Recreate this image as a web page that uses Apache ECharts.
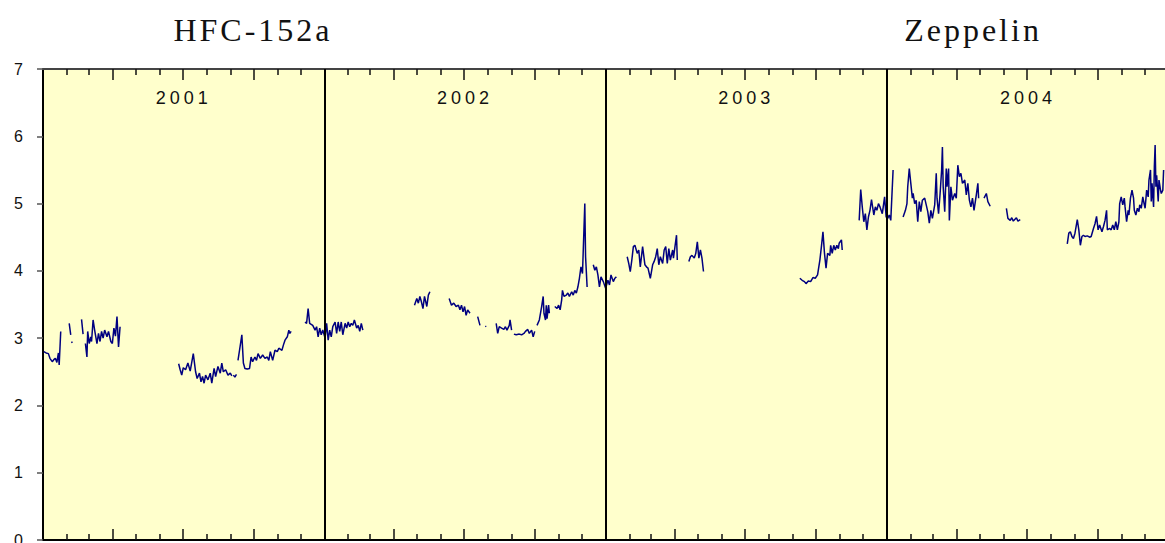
<!DOCTYPE html>
<html>
<head>
<meta charset="utf-8">
<script src="https://cdn.jsdelivr.net/npm/echarts@6/dist/echarts.min.js"></script>
<style>
html, body { margin: 0; padding: 0; background: #fff; }
#main { width: 1165px; height: 543px; }
#main text[style*="32px"] { letter-spacing: 3px; }
#main text[style*="18px"] { letter-spacing: 4px; }
</style>
</head>
<body>
<div id="main"></div>
<script>
var titles = ['HFC-152a', 'Zeppelin'];
var years = ['2001', '2002', '2003', '2004'];
var yearLength = [365, 365, 365, 366];
var monthLength = [31, 28, 31, 30, 31, 30, 31, 31, 30, 31, 30, 31];

// day number since 1 Jan 2001, null = gap in the record
var days = [
    1, 4, 7, 9, 12, 14, 16, 18, 20, 21, 23, null,
    34, 36, null, 37, 38, null, 50, 52, null,
    55, 57, 58, 60, 62, 63, 65, 67, 70, 72, 74, 76, 78, 80, 83, 85, 88, 90, 92, 94, 96, 98, 100, null,
    176, 178, 180, 182, 185, 188, 191, 195, 198, 200, 203, 205, 207, 209, 211, 214, 217, 219, 222, 224, 227, 230, 232, 234, 237, 240, 243, 245, null,
    247, 249, 251, null,
    253, 255, 258, 260, 262, 265, 268, 270, 272, 275, 277, 279, 282, 285, 288, 291, 293, 295, 298, 301, 304, 306, 310, 312, 314, 317, 319, 320, 322, null,
    340, 342, 344, 346, 350, 353, 355, 357, 359, 361, 363, 366, 368, 370, 372, 374, 376, 379, 381, 383, 385, 387, 389, 392, 394, 396, 398, 400, 402, 404, 407, 409, 411, 413, 415, null,
    482, 485, 487, 489, 491, 493, 495, 498, 500, 502, null,
    527, 530, 533, 536, 539, 541, 543, 545, 547, 549, 551, 554, null,
    564, 567, null, 574, 575, null,
    588, 590, 592, 595, 598, 600, 602, 605, 606, 608, null,
    611, 614, 618, 621, 624, 626, 629, 631, 634, 636, 638, null,
    641, 644, 647, 649, 650, 652, 653, 654, 656, 657, null,
    664, 667, 669, 671, 673, 674, 676, 679, 681, 683, 686, 688, 690, 692, 694, 696, 698, 700, 703, 704, 706, null,
    714, 716, 718, 720, 722, 724, 727, 730, 733, 735, 737, 740, 742, 744, null,
    758, 760, 762, 764, 766, 768, 771, 773, 775, 777, 778, 781, 783, 785, 788, 791, 793, 795, 797, 799, 801, 804, 806, 808, 810, 812, 814, 817, 818, 820, 822, 823, null,
    838, 840, 842, 845, 847, 849, 851, 853, 855, 857, null,
    982, 985, 988, 990, 993, 996, 999, 1002, 1005, 1008, 1010, 1012, 1014, 1016, 1018, 1021, 1022, 1024, 1026, 1028, 1030, 1032, 1033, 1036, 1037, null,
    1059, 1061, 1063, 1065, 1067, 1069, 1071, 1073, 1075, 1078, 1080, 1082, 1084, 1086, 1089, 1092, 1094, 1096, 1098, 1100, 1103, null,
    1116, 1119, 1121, 1122, 1124, 1126, 1128, 1129, 1131, 1133, 1135, 1137, 1139, 1141, 1144, 1146, 1148, 1150, 1152, 1154,
    1157, 1159, 1160, 1162, 1164, 1166, 1167, 1168, 1170, 1172, 1173, 1175, 1176, 1178, 1180, 1183, 1185, 1187, 1189, 1191,
    1193, 1196, 1198, 1200, 1202, 1204, 1206, 1208, 1211, 1213, 1214, null,
    1221, 1224, 1226, 1229, null,
    1250, 1252, 1255, 1257, 1259, 1263, 1265, 1268, null,
    1329, 1331, 1333, 1335, 1337, 1339, 1342, 1344, 1346, 1348, 1350, 1352, 1355, 1358, 1360, 1363, 1365, 1367, 1369, 1371,
    1374, 1376, 1378, 1380, 1381, 1384, 1386, 1388, 1390, 1392, 1394, 1396, 1397, 1399, 1401, 1403, 1404, 1406, 1408, 1409,
    1411, 1413, 1415, 1416, 1418, 1420, 1422, 1423, 1425, 1427, 1429, 1430, 1432, 1434, 1435, 1437, 1438, 1439, 1441, 1442,
    1443, 1444, 1445, 1447, 1448, 1450, 1451, 1453, 1454
];

// HFC-152a mixing ratio (ppt)
var ppt = [
    2.80, 2.78, 2.77, 2.70, 2.65, 2.68, 2.70, 2.64, 2.78, 2.60, 3.10, null,
    3.22, 3.05, null, 2.95, 2.93, null, 3.28, 3.06, null,
    2.92, 2.72, 3.10, 2.92, 3.02, 2.95, 3.27, 3.12, 2.92, 3.07, 2.95, 3.10, 3.00, 3.12, 3.02, 3.10, 2.95, 2.92, 3.15, 3.03, 3.32, 2.87, 3.17, null,
    2.62, 2.53, 2.45, 2.56, 2.53, 2.63, 2.51, 2.77, 2.50, 2.40, 2.48, 2.35, 2.43, 2.33, 2.45, 2.38, 2.48, 2.33, 2.55, 2.43, 2.58, 2.48, 2.63, 2.50, 2.53, 2.45, 2.48, 2.44, null,
    2.45, 2.42, 2.46, null,
    2.67, 2.82, 3.05, 2.63, 2.55, 2.54, 2.55, 2.72, 2.65, 2.72, 2.67, 2.77, 2.70, 2.75, 2.70, 2.72, 2.67, 2.80, 2.67, 2.82, 2.80, 2.85, 2.82, 2.90, 2.97, 3.02, 3.12, 3.07, 3.10, null,
    3.24, 3.22, 3.44, 3.22, 3.19, 3.12, 3.17, 3.02, 3.15, 3.05, 3.12, 3.00, 3.22, 2.97, 3.12, 3.02, 3.17, 3.24, 3.07, 3.24, 3.10, 3.24, 3.05, 3.22, 3.15, 3.24, 3.17, 3.22, 3.19, 3.27, 3.15, 3.19, 3.10, 3.22, 3.12, null,
    3.49, 3.59, 3.52, 3.62, 3.54, 3.44, 3.62, 3.47, 3.64, 3.69, null,
    3.59, 3.49, 3.52, 3.47, 3.49, 3.42, 3.49, 3.39, 3.47, 3.34, 3.42, 3.37, null,
    3.32, 3.19, null, 3.18, 3.17, null,
    3.22, 3.07, 3.17, 3.15, 3.13, 3.17, 3.12, 3.19, 3.27, 3.12, null,
    3.06, 3.05, 3.06, 3.05, 3.07, 3.10, 3.13, 3.07, 3.12, 3.02, 3.10, null,
    3.19, 3.27, 3.47, 3.62, 3.37, 3.27, 3.49, 3.29, 3.49, 3.37, null,
    3.47, 3.44, 3.49, 3.42, 3.57, 3.71, 3.62, 3.64, 3.67, 3.62, 3.69, 3.64, 3.71, 3.67, 3.76, 3.89, 4.06, 3.96, 5.00, 4.21, 3.76, null,
    4.09, 4.01, 4.06, 3.94, 3.76, 3.91, 3.84, 3.74, 3.86, 3.79, 3.94, 3.84, 3.89, 3.91, null,
    4.21, 4.11, 3.99, 4.16, 4.36, 4.38, 4.26, 4.31, 4.06, 4.26, 4.36, 4.09, 4.06, 4.04, 3.89, 4.09, 4.14, 4.21, 4.33, 4.09, 4.21, 4.11, 4.31, 4.36, 4.11, 4.33, 4.16, 4.31, 4.19, 4.36, 4.53, 4.16, null,
    4.14, 4.21, 4.23, 4.19, 4.26, 4.43, 4.19, 4.31, 4.19, 3.99, null,
    3.89, 3.86, 3.84, 3.81, 3.85, 3.84, 3.90, 3.89, 3.94, 4.16, 4.36, 4.58, 4.26, 4.04, 4.26, 4.23, 4.38, 4.26, 4.38, 4.31, 4.38, 4.33, 4.41, 4.46, 4.31, null,
    4.75, 5.21, 4.95, 4.73, 4.85, 4.61, 4.80, 4.90, 5.06, 4.83, 4.95, 4.90, 5.00, 4.95, 4.85, 5.10, 4.80, 4.78, 4.83, 4.75, 5.50, null,
    4.80, 4.90, 5.00, 5.25, 5.52, 5.30, 5.08, 5.15, 5.00, 5.05, 4.73, 5.03, 4.88, 5.05, 5.08, 4.98, 4.88, 4.71, 4.90, 4.78,
    4.98, 5.45, 5.08, 4.85, 5.15, 5.50, 5.84, 5.25, 4.88, 5.52, 5.25, 5.52, 4.75, 5.25, 5.05, 5.15, 5.08, 5.57, 5.40, 5.45,
    5.30, 5.35, 5.13, 5.30, 5.05, 4.95, 5.08, 4.90, 5.13, 5.30, 5.08, null,
    5.08, 5.15, 5.03, 4.96, null,
    4.93, 4.78, 4.75, 4.79, 4.74, 4.79, 4.74, 4.76, null,
    4.40, 4.56, 4.58, 4.51, 4.48, 4.56, 4.76, 4.61, 4.38, 4.51, 4.53, 4.51, 4.52, 4.50, 4.51, 4.63, 4.70, 4.81, 4.61, 4.68,
    4.58, 4.66, 4.75, 4.90, 4.61, 4.63, 4.61, 4.68, 4.61, 4.73, 4.61, 4.73, 5.00, 5.10, 4.98, 5.08, 4.95, 4.73, 4.90, 4.83,
    5.08, 5.20, 5.08, 4.90, 4.83, 4.93, 4.88, 4.98, 4.93, 5.10, 4.98, 4.93, 5.20, 5.10, 5.35, 5.50, 5.03, 5.30, 4.95, 5.55,
    5.87, 5.25, 5.42, 5.03, 5.35, 5.20, 5.15, 5.20, 5.50
];

// month, quarter and year boundaries on the day axis
var yearStart = [0];
var monthTicks = [];
var quarterTicks = [];
var yearMid = [];
for (var y = 0; y < years.length; y++) {
    var d = yearStart[y];
    yearMid.push(d + yearLength[y] / 2);
    for (var m = 0; m < 12; m++) {
        if (m > 0) {
            if (m % 3 === 0) quarterTicks.push(d);
            else monthTicks.push(d);
        }
        d += monthLength[m] + (m === 1 && yearLength[y] === 366 ? 1 : 0);
    }
    yearStart.push(d);
}
var dayMax = yearStart[yearStart.length - 1];

var seriesData = [];
for (var i = 0; i < days.length; i++) {
    seriesData.push(days[i] === null ? ['-', '-'] : [days[i], ppt[i]]);
}

function tickAxis(position, values, len, lineColor, showLine) {
    return {
        type: 'value',
        position: position,
        min: 0,
        max: dayMax,
        axisLine: { show: showLine, onZero: false, lineStyle: { color: lineColor, width: 2 } },
        axisTick: { show: true, inside: true, length: len, customValues: values, lineStyle: { color: '#111', width: 1.5 } },
        axisLabel: { show: false },
        splitLine: { show: false }
    };
}

var myChart = echarts.init(document.getElementById('main'), null, { renderer: 'svg' });

var option = {
    animation: false,
    backgroundColor: '#fff',
    title: [
        { text: titles[0], left: 248, top: 9, textAlign: 'center',
          textStyle: { fontFamily: 'Liberation Serif', fontSize: 32, fontWeight: 'normal', color: '#111' } },
        { text: titles[1], left: 968, top: 9, textAlign: 'center',
          textStyle: { fontFamily: 'Liberation Serif', fontSize: 32, fontWeight: 'normal', color: '#111' } }
    ],
    grid: {
        left: 43,
        top: 69,
        width: 1126,
        height: 471,
        outerBoundsMode: 'none',
        containLabel: false,
        show: true,
        backgroundColor: '#FFFFCC',
        borderWidth: 0
    },
    xAxis: [
        tickAxis('bottom', monthTicks, 6, '#000', true),
        tickAxis('bottom', quarterTicks, 11, '#000', false),
        tickAxis('top', monthTicks, 6, '#444', true),
        tickAxis('top', quarterTicks, 11, '#444', false),
        {
            type: 'value',
            position: 'top',
            min: 0,
            max: dayMax,
            axisLine: { show: false, onZero: false },
            axisTick: { show: false },
            splitLine: { show: false },
            axisLabel: {
                show: true,
                inside: true,
                margin: 20,
                customValues: yearMid,
                fontFamily: 'Liberation Sans',
                fontSize: 18,
                color: '#111',
                formatter: function (v) {
                    for (var k = 0; k < yearMid.length; k++) {
                        if (Math.abs(yearMid[k] - v) < 1) return years[k];
                    }
                    return '';
                }
            }
        }
    ],
    yAxis: {
        type: 'value',
        min: 0,
        max: 7,
        interval: 1,
        axisLine: { show: true, onZero: false, lineStyle: { color: '#000', width: 2 } },
        axisTick: { show: true, length: 6, lineStyle: { color: '#555', width: 1.5 } },
        axisLabel: { margin: 20, fontFamily: 'Liberation Sans', fontSize: 16, color: '#111' },
        splitLine: { show: false }
    },
    series: [{
        name: 'HFC-152a',
        type: 'line',
        xAxisIndex: 0,
        data: seriesData,
        showSymbol: false,
        connectNulls: false,
        lineStyle: { color: '#000080', width: 1.5 },
        markLine: {
            silent: true,
            symbol: ['none', 'none'],
            label: { show: false },
            lineStyle: { color: '#000', width: 2, type: 'solid' },
            data: yearStart.slice(1, years.length).map(function (d) { return { xAxis: d }; })
        }
    }]
};

myChart.setOption(option);
</script>
</body>
</html>
